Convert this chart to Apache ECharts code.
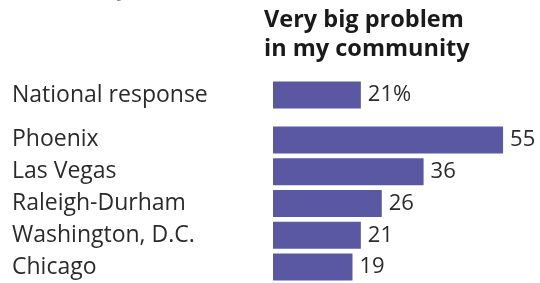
<!DOCTYPE html>
<html>
<head>
<meta charset="utf-8">
<script src="https://cdn.jsdelivr.net/npm/echarts@6/dist/echarts.min.js"></script>
<style>
  html, body { margin: 0; padding: 0; background: #fff; }
  #main { width: 540px; height: 283px; }
</style>
</head>
<body>
<div id="main"></div>
<script>
// national row sits apart from the city rows
const nationalNames = ["National response"];
const nationalValues = [21];
const cityNames = ["Phoenix", "Las Vegas", "Raleigh-Durham", "Washington, D.C.", "Chicago"];
const cityValues = [55, 36, 26, 21, 19];

const FONT = "Open Sans";
const barColor = "#5b58a3";
const textColor = "#2b2b2b";

const chart = echarts.init(document.getElementById("main"));

function catAxis(idx, names) {
  return {
    type: "category",
    gridIndex: idx,
    data: names,
    inverse: true,
    axisLine: { show: false },
    axisTick: { show: false },
    axisLabel: {
      align: "left",
      margin: 261,
      color: textColor,
      fontFamily: FONT,
      fontSize: 23
    }
  };
}

function valAxis(idx) {
  return {
    type: "value",
    gridIndex: idx,
    min: 0,
    max: 60,
    show: false
  };
}

function barSeries(idx, values, fmt) {
  return {
    type: "bar",
    xAxisIndex: idx,
    yAxisIndex: idx,
    data: values,
    barWidth: 27,
    itemStyle: { color: barColor },
    label: {
      show: true,
      position: "right",
      distance: 7,
      color: textColor,
      fontFamily: FONT,
      fontSize: 22,
      formatter: fmt
    },
    animation: false
  };
}

chart.setOption({
  animation: false,
  title: {
    text: "Very big problem\nin my community",
    left: 259,
    top: 1,
    textStyle: {
      fontFamily: FONT,
      fontWeight: "bold",
      fontSize: 23.5,
      lineHeight: 29,
      color: "#1a1a1a"
    }
  },
  graphic: [{
    type: "text",
    left: 12,
    top: -21,
    style: { text: "community", fontFamily: FONT, fontSize: 22, fill: "#888" }
  }],
  grid: [
    { left: 273, top: 79, width: 251, height: 32 },
    { left: 273, top: 124, width: 251, height: 160 }
  ],
  xAxis: [valAxis(0), valAxis(1)],
  yAxis: [catAxis(0, nationalNames), catAxis(1, cityNames)],
  series: [
    barSeries(0, nationalValues, "{c}%"),
    barSeries(1, cityValues, "{c}")
  ]
});
</script>
</body>
</html>
